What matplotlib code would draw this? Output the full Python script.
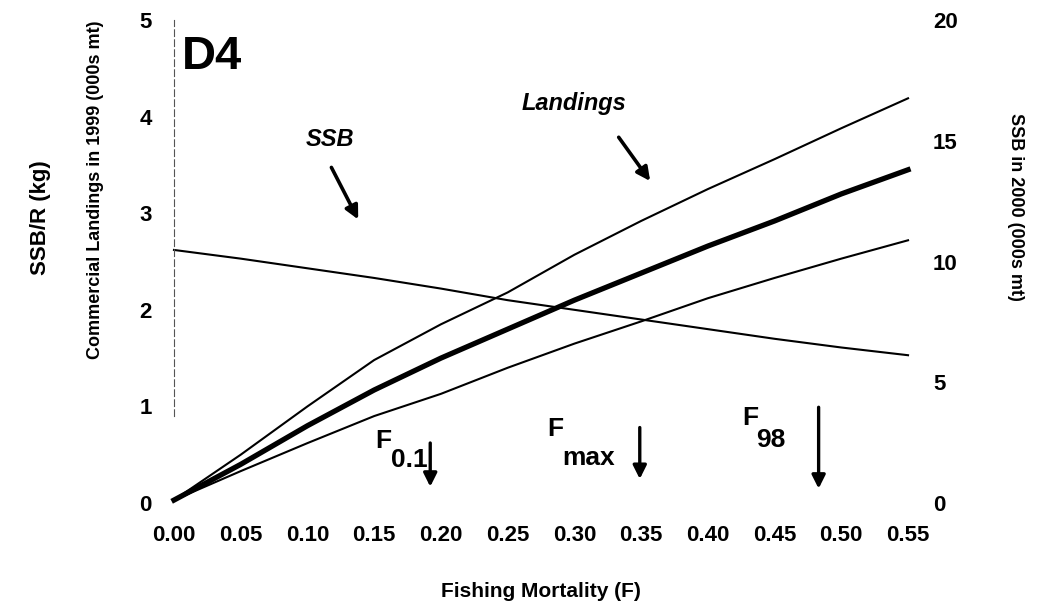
import numpy as np
import matplotlib
matplotlib.use("Agg")
import matplotlib.pyplot as plt

# Fishing mortality grid
F = [0.00, 0.05, 0.10, 0.15, 0.20, 0.25, 0.30, 0.35, 0.40, 0.45, 0.50, 0.55]

# landings (central run is the thick line, upper/lower bounds thin)
land_upper = [0.03, 0.50, 1.00, 1.48, 1.85, 2.18, 2.57, 2.92, 3.25, 3.56, 3.88, 4.19]
land_mid = [0.03, 0.40, 0.80, 1.17, 1.50, 1.80, 2.10, 2.38, 2.66, 2.92, 3.20, 3.45]
land_lower = [0.03, 0.33, 0.62, 0.90, 1.13, 1.40, 1.65, 1.88, 2.12, 2.33, 2.53, 2.72]

# SSB per recruit
ssb_r = [2.62, 2.53, 2.43, 2.33, 2.22, 2.10, 2.00, 1.90, 1.80, 1.70, 1.61, 1.53]

# reference points: (label, subscript, F value)
ref_points = [("F", "0.1", 0.192), ("F", "max", 0.349), ("F", "98", 0.483)]

xticks = [0.00, 0.05, 0.10, 0.15, 0.20, 0.25, 0.30, 0.35, 0.40, 0.45, 0.50, 0.55]
left_ticks = [0, 1, 2, 3, 4, 5]
right_ticks = [0, 5, 10, 15, 20]

plt.rcParams['font.family'] = ['Liberation Sans', 'DejaVu Sans']
plt.rcParams['font.weight'] = 'bold'

fig = plt.figure(figsize=(10.38, 6.08), dpi=100)
ax = fig.add_axes([0.1676, 0.1727, 0.7072, 0.7943])

ax.plot(F, land_upper, color='black', lw=1.5, clip_on=False)
ax.plot(F, land_mid, color='black', lw=3.8, clip_on=False)
ax.plot(F, land_lower, color='black', lw=1.5, clip_on=False)
ax.plot(F, ssb_r, color='black', lw=1.5, clip_on=False)

ax.set_xlim(0, 0.55)
ax.set_ylim(0, 5)
ax.set_xticks(xticks)
ax.set_xticklabels([f"{v:.2f}" for v in xticks])
ax.set_yticks(left_ticks)
for s in ['top', 'right', 'bottom']:
    ax.spines[s].set_visible(False)
ax.spines['left'].set_linestyle((0, (6, 3)))
ax.spines['left'].set_linewidth(0.8)
ax.spines['left'].set_color('#555555')
ax.spines['left'].set_bounds(0.9, 5)
ax.tick_params(axis='x', length=0, pad=16, labelsize=16)
ax.tick_params(axis='y', length=0, pad=16, labelsize=16)

ax.set_xlabel("Fishing Mortality (F)", fontsize=15, fontweight='bold', labelpad=26)
ax.text(-0.059, 3.24, "Commercial Landings in 1999 (000s mt)", rotation=90,
        ha='center', va='center', fontsize=13, fontweight='bold')
ax.text(-0.100, 2.95, "SSB/R (kg)", rotation=90, ha='center', va='center',
        fontsize=16, fontweight='bold')

ax2 = ax.twinx()
ax2.set_ylim(0, 20)
ax2.set_yticks(right_ticks)
for s in ax2.spines.values():
    s.set_visible(False)
ax2.tick_params(axis='y', length=0, pad=18, labelsize=16)
ax2.text(1.146, 0.613, "SSB in 2000 (000s mt)", rotation=-90, transform=ax.transAxes,
         ha='center', va='center', fontsize=13, fontweight='bold')

# panel label
ax.text(0.006, 4.85, "D4", fontsize=34, fontweight='bold', ha='left', va='top')

# curve labels with arrows
ax.text(0.117, 3.76, "SSB", fontsize=17, fontweight='bold', style='italic',
        ha='center', va='center')
ax.annotate("", xy=(0.139, 2.91), xytext=(0.117, 3.50),
            arrowprops=dict(arrowstyle='-|>', color='black', lw=2.6,
                            mutation_scale=20))
ax.text(0.300, 4.14, "Landings", fontsize=17, fontweight='bold', style='italic',
        ha='center', va='center')
ax.annotate("", xy=(0.358, 3.31), xytext=(0.332, 3.81),
            arrowprops=dict(arrowstyle='-|>', color='black', lw=2.6,
                            mutation_scale=20))

# reference point arrows
arrow_spans = [(0.65, 0.14), (0.81, 0.22), (1.02, 0.12)]
label_pos = [(0.157, 0.64, 0.176, 0.45), (0.286, 0.77, 0.311, 0.47),
             (0.432, 0.88, 0.447, 0.65)]
for (name, sub, fx), (y0, y1), (xf, yf, xs, ys) in zip(ref_points, arrow_spans, label_pos):
    ax.annotate("", xy=(fx, y1), xytext=(fx, y0),
                arrowprops=dict(arrowstyle='-|>', color='black', lw=2.4,
                                mutation_scale=20))
    ax.text(xf, yf, name, fontsize=19, ha='center', va='center')
    ax.text(xs, ys, sub, fontsize=19, ha='center', va='center')

fig.savefig("out.png", dpi=100)
